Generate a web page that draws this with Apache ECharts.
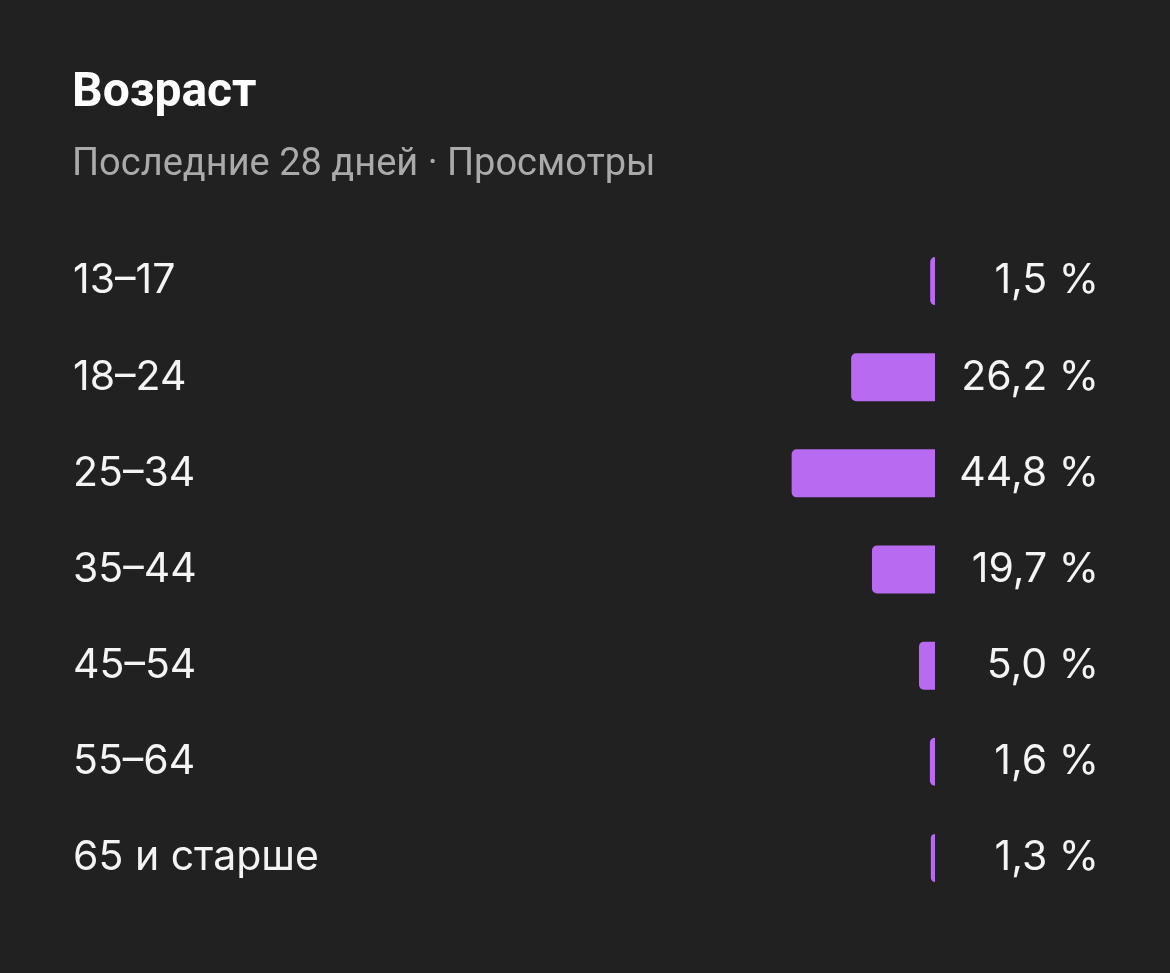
<!DOCTYPE html>
<html><head><meta charset="utf-8">
<script src="https://cdn.jsdelivr.net/npm/echarts@6/dist/echarts.min.js"></script>
<style>html,body{margin:0;padding:0;background:#212121;}#c{width:1170px;height:973px;}</style>
</head><body><div id="c"></div>
<script>
const title = 'Возраст';
const subtitle = 'Последние 28 дней · Просмотры';
const categories = ['13–17','18–24','25–34','35–44','45–54','55–64','65 и старше'];
const values = [1.5, 26.2, 44.8, 19.7, 5.0, 1.6, 1.3];

const chart = echarts.init(document.getElementById('c'));
chart.setOption({
  backgroundColor: '#212121',
  animation: false,
  title: {
    text: title, subtext: subtitle, left: 67, top: 65, itemGap: 28,
    textStyle: {color: '#ffffff', fontSize: 48, fontWeight: 'bold', fontFamily: 'Roboto'},
    subtextStyle: {color: '#aaaaaa', fontSize: 38, fontFamily: 'Roboto'}
  },
  grid: {left: 615, right: 235, top: 233, bottom: 67},
  xAxis: {type: 'value', inverse: true, min: 0, max: 100, show: false},
  yAxis: {
    type: 'category', data: categories, inverse: true,
    axisLine: {show: false}, axisTick: {show: false},
    axisLabel: {align: 'left', margin: 542, color: '#f4f4f4', fontSize: 41, fontFamily: 'Inter'}
  },
  series: [{
    type: 'bar', data: values, barWidth: 48,
    itemStyle: {color: '#b86af1', borderRadius: [5, 0, 0, 5]},
    label: {
      show: true, position: 'right', distance: 164, align: 'right',
      color: '#f4f4f4', fontSize: 41, fontFamily: 'Inter',
      formatter: p => p.value.toFixed(1).replace('.', ',') + ' %'
    }
  }]
});
</script></body></html>
